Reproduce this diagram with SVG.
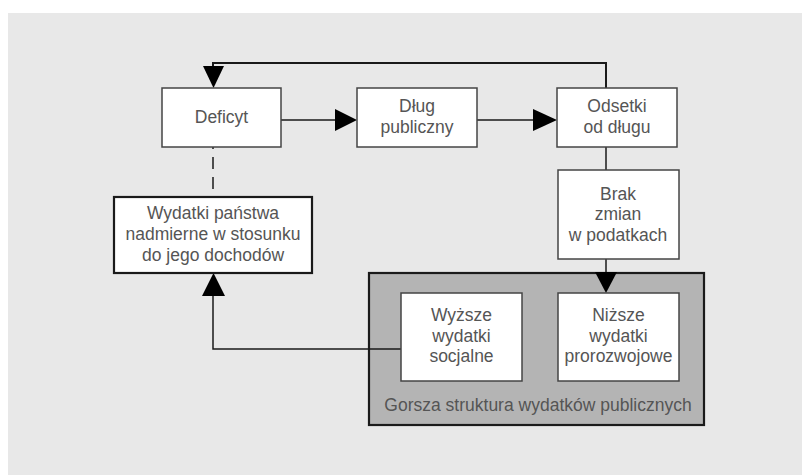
<svg xmlns="http://www.w3.org/2000/svg" width="802" height="475" viewBox="0 0 802 475">
<defs>
<style>
.bg{fill:#e8e8e8}
.box{fill:#ffffff;stroke:#444;stroke-width:1.5}
.boxb{fill:#ffffff;stroke:#1a1a1a;stroke-width:2.2}
.grp{fill:#b4b4b4;stroke:#1a1a1a;stroke-width:2.2}
.t{font-family:"Liberation Sans",Arial,sans-serif;font-size:17.5px;fill:#555;text-anchor:middle}
.line{fill:none;stroke:#1a1a1a;stroke-width:1.5}
.thick{fill:none;stroke:#1a1a1a;stroke-width:2}
.head{fill:#000}
</style>
</defs>
<rect class="bg" x="8" y="13" width="794" height="462"/>
<g id="group-gorsza">
<rect class="grp" x="369" y="273" width="335" height="152"/>
<text class="t" x="538" y="411">Gorsza struktura wydatków publicznych</text>
</g>
<g id="connectors">
<polyline class="thick" points="606,88 606,63 213,63 213,70"/>
<polygon class="head" points="203,66 224,66 213.5,88"/>
<line class="line" x1="281" y1="120" x2="336" y2="120"/>
<polygon class="head" points="335,109 357,120 335,131"/>
<line class="line" x1="477" y1="120" x2="534" y2="120"/>
<polygon class="head" points="533,109 557,120 533,131"/>
<line class="line" x1="606" y1="147" x2="606" y2="170"/>
<line class="line" x1="606" y1="259" x2="606" y2="274"/>
<polygon class="head" points="595,272 617,272 606,293"/>
<line class="line" x1="213" y1="147" x2="213" y2="197" stroke-dasharray="12 8" stroke-dashoffset="10"/>
<polyline class="line" points="401,349 213,349 213,294"/>
<polygon class="head" points="202,296 225,296 213.5,273"/>
</g>
<g id="deficyt">
<rect class="box" x="162" y="88" width="119" height="59"/>
<text class="t" x="221.5" y="123">Deficyt</text>
</g>
<g id="dlug">
<rect class="box" x="357" y="88" width="120" height="59"/>
<text class="t" x="417" y="112">Dług</text>
<text class="t" x="417" y="133">publiczny</text>
</g>
<g id="odsetki">
<rect class="box" x="557" y="88" width="120" height="59"/>
<text class="t" x="617" y="112">Odsetki</text>
<text class="t" x="617" y="133">od długu</text>
</g>
<g id="brak">
<rect class="box" x="558" y="170" width="121" height="89"/>
<text class="t" x="618" y="200">Brak</text>
<text class="t" x="618" y="220">zmian</text>
<text class="t" x="618" y="241">w podatkach</text>
</g>
<g id="wydatki-panstwa">
<rect class="boxb" x="114" y="197" width="198" height="76"/>
<text class="t" x="213" y="219">Wydatki państwa</text>
<text class="t" x="213" y="240">nadmierne w stosunku</text>
<text class="t" x="213" y="261">do jego dochodów</text>
</g>
<g id="wyzsze">
<rect class="box" x="401" y="293" width="121" height="88"/>
<text class="t" x="461.5" y="321">Wyższe</text>
<text class="t" x="461.5" y="342">wydatki</text>
<text class="t" x="461.5" y="362">socjalne</text>
</g>
<g id="nizsze">
<rect class="box" x="558" y="293" width="121" height="88"/>
<text class="t" x="618.5" y="321">Niższe</text>
<text class="t" x="618.5" y="342">wydatki</text>
<text class="t" x="618.5" y="362">prorozwojowe</text>
</g>
</svg>
